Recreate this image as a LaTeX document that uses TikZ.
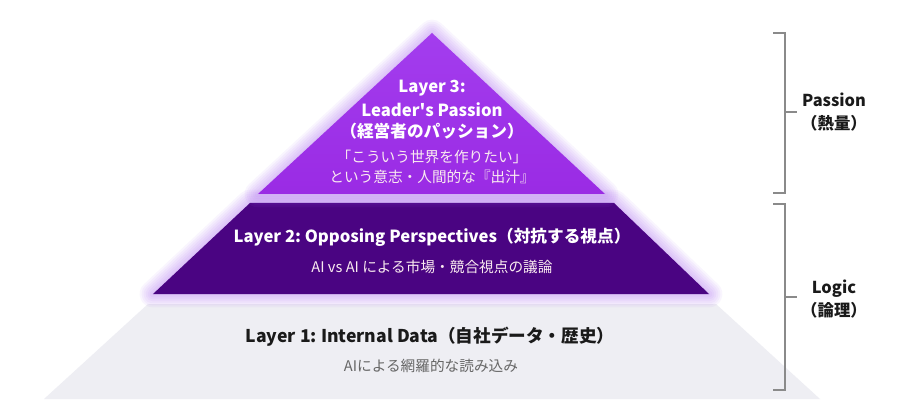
\documentclass[tikz,border=0pt]{standalone}
\usepackage{fontspec}
\setmainfont{Noto Sans CJK JP}
\frenchspacing
\definecolor{purpleA}{HTML}{9A2BE4}
\definecolor{purpleAtop}{HTML}{A33DEE}
\definecolor{purpleB}{HTML}{4A0482}
\definecolor{glow}{HTML}{A259F0}
\definecolor{greyL}{HTML}{EEEEF3}
\definecolor{brk}{HTML}{8A8A8A}
\definecolor{darktext}{HTML}{1A1A1A}
\definecolor{subgrey}{HTML}{666666}
\tikzset{
  glowline/.style={draw=glow, line join=round, opacity=0.06, line width=#1},
  titlewhite/.style={text=white, font=\bfseries\fontsize{12.5}{15}\selectfont, align=center, inner sep=0pt},
  subwhite/.style={text=white!92!purple, font=\fontsize{11}{14}\selectfont, align=center, inner sep=0pt},
  titledark/.style={text=darktext, font=\bfseries\fontsize{13.2}{16}\selectfont, inner sep=0pt},
  subdark/.style={text=subgrey, font=\fontsize{11}{13}\selectfont, inner sep=0pt},
  sidelabel/.style={text=darktext, font=\bfseries\fontsize{12.3}{17}\selectfont, align=center, inner sep=0pt},
  bracket/.style={draw=brk, line width=0.9pt}
}
\begin{document}
\begin{tikzpicture}[x=0.75pt,y=-0.75pt]
\useasboundingbox[fill=white] (0,0) rectangle (910,417);
% Layer 1
\fill[greyL] (148,304) -- (716,304) -- (820,399) -- (44,399) -- cycle;
% Layer 2 glow
\foreach \w in {2,5,8,11,14,17,20}{
  \draw[glowline=\w pt] (250,203) -- (614,203) -- (709,294) -- (153,294) -- cycle;
}
\fill[purpleB] (250,203) -- (614,203) -- (709,294) -- (153,294) -- cycle;
% Layer 3 glow
\foreach \w in {2,5,8,11,14,17,20}{
  \draw[glowline=\w pt] (432,33) -- (605,194) -- (258,194) -- cycle;
}
\shade[top color=purpleAtop, bottom color=purpleA] (432,33) -- (605,194) -- (258,194) -- cycle;
% Layer 3 texts
\node[titlewhite] (l3a) at (432,88) {Layer 3:};
\node[titlewhite] (l3b) at (432,110) {Leader\textquotesingle s Passion};
\node[titlewhite] (l3c) at (432,131) {（経営者のパッション）};
\node[subwhite] (l3d) at (432,157) {「こういう世界を作りたい」};
\node[subwhite] (l3e) at (432,177) {という意志・人間的な『出汁』};
% Layer 2 texts
\node[titlewhite] (l2a) at (432,237) {Layer 2: Opposing Perspectives（対抗する視点）};
\node[subwhite] (l2b) at (432,267) {AI vs AI による市場・競合視点の議論};
% Layer 1 texts
\node[titledark] (l1a) at (430,337) {Layer 1: Internal Data（自社データ・歴史）};
\node[subdark] (l1b) at (431,366) {AIによる網羅的な読み込み};
% Brackets
\coordinate (p1) at (773,33);
\coordinate (p2) at (785,33);
\coordinate (p3) at (785,193);
\coordinate (p4) at (773,193);
\coordinate (pm) at (785,112);
\coordinate (pt) at (797,112);
\draw[bracket] (p1) -- (p2) -- (p3) -- (p4);
\draw[bracket] (pm) -- (pt);
\coordinate (q1) at (773,204);
\coordinate (q2) at (785,204);
\coordinate (q3) at (785,390);
\coordinate (q4) at (773,390);
\coordinate (qm) at (785,297);
\coordinate (qt) at (797,297);
\draw[bracket] (q1) -- (q2) -- (q3) -- (q4);
\draw[bracket] (qm) -- (qt);
\node[sidelabel] (pass) at (834,112) {Passion\\（熱量）};
\node[sidelabel] (logic) at (834,299) {Logic\\（論理）};
\end{tikzpicture}
\end{document}
